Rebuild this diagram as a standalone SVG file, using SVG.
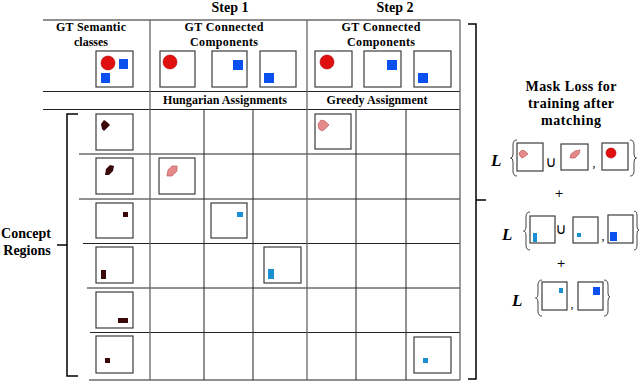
<svg xmlns="http://www.w3.org/2000/svg" width="640" height="382" viewBox="0 0 640 382">
<style>
.hdr{font-family:"Liberation Serif",serif;font-weight:bold;font-size:12px;text-anchor:middle;fill:#000}
.big{font-size:14px}
.box{fill:#fff;stroke:#3c3c3c;stroke-width:1.2}
.grid{stroke:#222;stroke-width:1;fill:none}
.gridg{stroke:#666;stroke-width:1.3;fill:none}
.maroon{fill:#3a0808}
.pink{fill:#e48a8a;stroke:#c05a5a;stroke-width:0.7}
.red{fill:#e01010;stroke:#b00000;stroke-width:0.6}
.blue{fill:#0a50ee}
.lblue{fill:#1a90d0}
.brk{fill:none;stroke:#000;stroke-width:1.5}
.brace{fill:none;stroke:#444;stroke-width:1}
.L{font-family:"Liberation Serif",serif;font-style:italic;font-weight:bold;font-size:17px;fill:#000}
.op{font-family:"DejaVu Sans",sans-serif;font-size:15px;fill:#000;text-anchor:middle}
.pl{font-family:"DejaVu Sans",sans-serif;font-size:11px;fill:#000;text-anchor:middle}
.cm{font-family:"Liberation Serif",serif;font-size:12px;fill:#000;text-anchor:middle}
</style>
<rect width="640" height="382" fill="#fff"/>

<g id="headers">
<text class="hdr big" x="230" y="12">Step 1</text>
<text class="hdr big" x="395" y="12">Step 2</text>
<text class="hdr" x="91" y="31" textLength="70" lengthAdjust="spacing">GT Semantic</text>
<text class="hdr" x="91" y="46">classes</text>
<text class="hdr" x="224" y="31" textLength="79" lengthAdjust="spacing">GT Connected</text>
<text class="hdr" x="224" y="46" textLength="68" lengthAdjust="spacing">Components</text>
<text class="hdr" x="381" y="31" textLength="79" lengthAdjust="spacing">GT Connected</text>
<text class="hdr" x="381" y="46" textLength="68" lengthAdjust="spacing">Components</text>
<text class="hdr" x="225" y="104" textLength="124" lengthAdjust="spacing">Hungarian Assignments</text>
<text class="hdr" x="377" y="104" textLength="101" lengthAdjust="spacing">Greedy Assignment</text>
<text class="hdr big" x="26" y="238">Concept</text>
<text class="hdr big" x="27" y="255">Regions</text>
<text class="hdr big" x="571" y="91" textLength="91" lengthAdjust="spacing">Mask Loss for</text>
<text class="hdr big" x="571" y="108" textLength="86" lengthAdjust="spacing">training after</text>
<text class="hdr big" x="571" y="125" textLength="60" lengthAdjust="spacing">matching</text>
</g>

<g id="grid">
<line class="grid" x1="43" y1="20" x2="460" y2="20"/>
<line class="grid" x1="43" y1="91.5" x2="460" y2="91.5"/>
<line class="grid" x1="43" y1="109.5" x2="460" y2="109.5"/>
<line class="grid" x1="79" y1="154" x2="460" y2="154"/>
<line class="grid" x1="79" y1="199" x2="460" y2="199"/>
<line class="grid" x1="83" y1="243.5" x2="460" y2="243.5"/>
<line class="grid" x1="87" y1="288" x2="460" y2="288"/>
<line class="grid" x1="90" y1="332.5" x2="460" y2="332.5"/>
<line class="grid" x1="89" y1="380" x2="460" y2="380"/>
<line class="gridg" x1="150" y1="20" x2="150" y2="380"/>
<line class="gridg" x1="307" y1="20" x2="307" y2="380"/>
<line class="gridg" x1="460" y1="20" x2="460" y2="380"/>
<line class="grid" x1="204" y1="109.5" x2="204" y2="380"/>
<line class="grid" x1="253" y1="109.5" x2="253" y2="380"/>
<line class="grid" x1="356" y1="109.5" x2="356" y2="380"/>
<line class="grid" x1="406" y1="109.5" x2="406" y2="380"/>
</g>

<g id="gt-semantic">
<rect class="box" x="96" y="51" width="37" height="36"/>
<circle class="red" cx="108" cy="63" r="7"/>
<rect class="blue" x="119" y="59" width="9" height="10"/>
<rect class="blue" x="101" y="73" width="9" height="10"/>
</g>
<g id="cc1-step1"><rect class="box" x="160" y="51" width="35" height="36"/><circle class="red" cx="170" cy="62" r="7"/></g>
<g id="cc2-step1"><rect class="box" x="212" y="51" width="35" height="36"/><rect class="blue" x="233" y="60" width="10" height="10"/></g>
<g id="cc3-step1"><rect class="box" x="260" y="51" width="36" height="36"/><rect class="blue" x="264" y="73" width="10" height="10"/></g>
<g id="cc1-step2"><rect class="box" x="315" y="51" width="37" height="36"/><circle class="red" cx="327" cy="62" r="7"/></g>
<g id="cc2-step2"><rect class="box" x="364" y="51" width="37" height="36"/><rect class="blue" x="387" y="60" width="10" height="10"/></g>
<g id="cc3-step2"><rect class="box" x="414" y="51" width="37" height="36"/><rect class="blue" x="418" y="73" width="10" height="10"/></g>

<g id="concept1"><rect class="box" x="96" y="114" width="37" height="36"/><path class="maroon" d="M101,124 L104,120 L107,122 L110,125 L106,129 L104,131 L102,129 Z"/></g>
<g id="concept2"><rect class="box" x="96" y="158" width="37" height="36"/><path class="maroon" d="M105,175 L106,169 L110,165 L114,166 L113,171 L109,175 Z"/></g>
<g id="concept3"><rect class="box" x="96" y="203" width="37" height="35"/><rect class="maroon" x="123" y="212" width="5" height="5"/></g>
<g id="concept4"><rect class="box" x="96" y="247" width="37" height="36"/><rect class="maroon" x="101" y="270" width="5" height="9"/></g>
<g id="concept5"><rect class="box" x="96" y="292" width="37" height="36"/><rect class="maroon" x="118" y="318" width="10" height="5"/></g>
<g id="concept6"><rect class="box" x="96" y="336" width="37" height="37"/><rect class="maroon" x="105" y="358" width="5" height="5"/></g>

<g id="hungarian1"><rect class="box" x="159" y="158" width="36" height="36"/><path class="pink" d="M167,176 L168,170 L172,166 L177,166 L177,171 L172,176 Z"/></g>
<g id="hungarian2"><rect class="box" x="211" y="203" width="36" height="35"/><rect class="lblue" x="237" y="212" width="6" height="5"/></g>
<g id="hungarian3"><rect class="box" x="264" y="247" width="37" height="36"/><rect class="lblue" x="268" y="269" width="6" height="10"/></g>
<g id="greedy1"><rect class="box" x="315" y="114" width="36" height="35"/><path class="pink" d="M318,124 L321,120 L325,121 L329,125 L325,129 L322,131 L319,129 Z"/></g>
<g id="greedy2"><rect class="box" x="414" y="337" width="37" height="36"/><rect class="lblue" x="423" y="358" width="5" height="5"/></g>

<g id="connectors">
<path class="brk" d="M78,114 H67 V376 H78"/>
<line class="brk" x1="57" y1="245" x2="67" y2="245"/>
<path class="brk" d="M468,24 H476 V379 H468"/>
<line class="brk" x1="476" y1="200" x2="486" y2="200"/>
</g>

<g id="loss1">
<text class="L" x="491" y="166">L</text>
<path class="brace" d="M517,140 Q513,140 513,145 L513,154 Q513,158 510.5,158 Q513,158 513,162 L513,171 Q513,176 517,176"/>
<rect class="box" x="517" y="143" width="26" height="28"/>
<path class="pink" d="M519,153 L522,150 L525,151 L528,154 L524,157 L522,158 L520,156 Z"/>
<text class="op" x="551" y="167">∪</text>
<rect class="box" x="561" y="144" width="27" height="26"/>
<path class="pink" d="M570,158 L571,154 L575,151 L580,150 L579,154 L575,158 Z"/>
<text class="cm" x="594" y="167">,</text>
<rect class="box" x="602" y="143" width="26" height="27"/>
<circle class="red" cx="611" cy="153" r="5"/>
<path class="brace" d="M630,140 Q634,140 634,145 L634,154 Q634,158 636.5,158 Q634,158 634,162 L634,171 Q634,176 630,176"/>
<text class="pl" x="559" y="197">+</text>
</g>

<g id="loss2">
<text class="L" x="502" y="240">L</text>
<path class="brace" d="M530,212 Q526,212 526,217 L526,226 Q526,231 523.5,231 Q526,231 526,236 L526,245 Q526,250 530,250"/>
<rect class="box" x="530" y="216" width="25" height="27"/>
<rect class="lblue" x="533" y="233" width="4" height="9"/>
<text class="op" x="561" y="234">∪</text>
<rect class="box" x="573" y="217" width="25" height="26"/>
<rect class="lblue" x="577" y="233" width="4" height="4"/>
<text class="cm" x="603" y="240">,</text>
<rect class="box" x="608" y="215" width="25" height="28"/>
<rect class="blue" x="610" y="232" width="7" height="9"/>
<path class="brace" d="M634,211 Q637,211 637,216 L637,226 Q637,230 639,230 Q637,230 637,234 L637,245 Q637,250 634,250"/>
<text class="pl" x="561" y="267">+</text>
</g>

<g id="loss3">
<text class="L" x="512" y="306">L</text>
<path class="brace" d="M542,280 Q538,280 538,285 L538,293 Q538,298 535.5,298 Q538,298 538,303 L538,311 Q538,316 542,316"/>
<rect class="box" x="542" y="282" width="25" height="28"/>
<rect class="lblue" x="559" y="288" width="4" height="5"/>
<text class="cm" x="572" y="308">,</text>
<rect class="box" x="578" y="282" width="25" height="28"/>
<rect class="blue" x="593" y="287" width="7" height="8"/>
<path class="brace" d="M604,280 Q608,280 608,285 L608,293 Q608,297 610,297 Q608,297 608,301 L608,311 Q608,316 604,316"/>
</g>
</svg>
